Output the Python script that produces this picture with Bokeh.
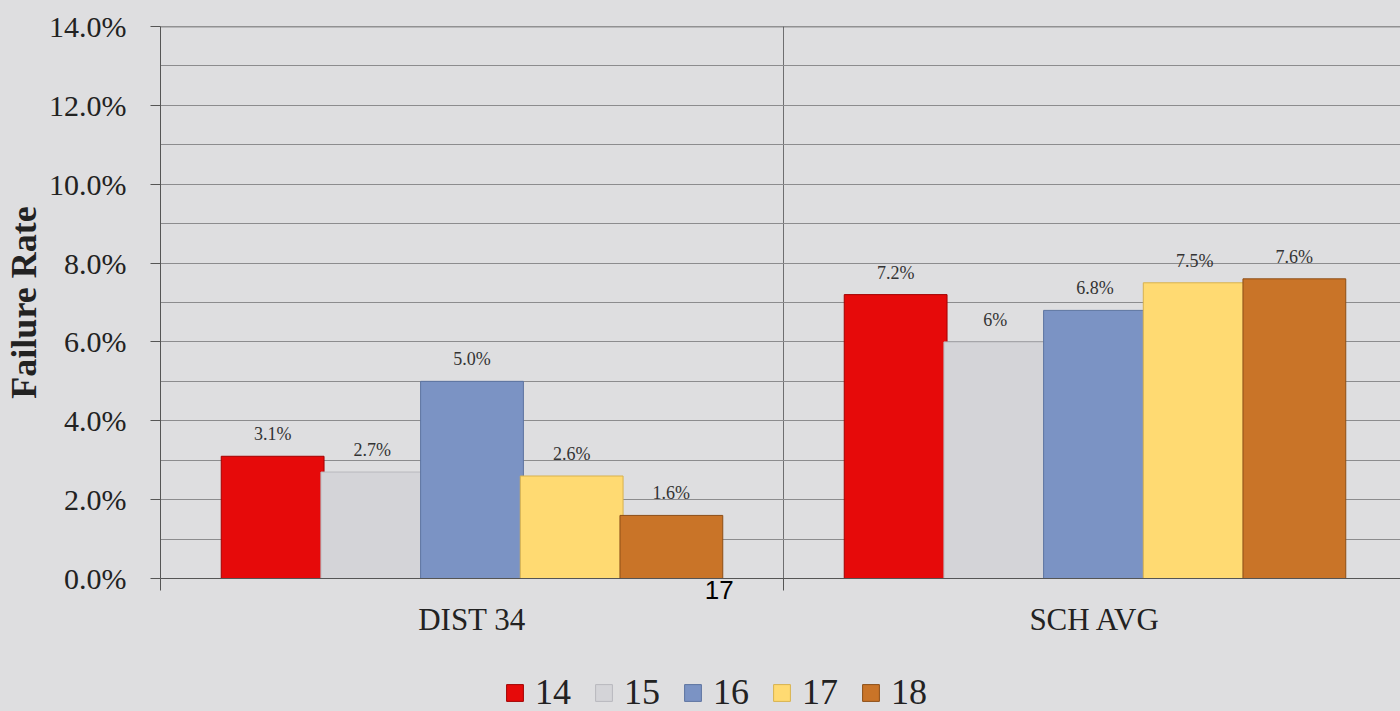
import numpy as np
from bokeh.plotting import figure
from bokeh.models import (Range1d, FixedTicker, PrintfTickFormatter, Legend, LegendItem,
                          Span, ColumnDataSource, LinearAxis)
from bokeh.layouts import column
from bokeh.embed import file_html
from bokeh.resources import INLINE
from bokeh.core.properties import value

# ---------------- data ----------------
groups = ["DIST 34", "SCH AVG"]
series = ["14", "15", "16", "17", "18"]
dist34 = [3.1, 2.7, 5.0, 2.6, 1.6]
sch_avg = [7.2, 6.0, 6.8, 7.5, 7.6]
dist34_labels = ["3.1%", "2.7%", "5.0%", "2.6%", "1.6%"]
sch_avg_labels = ["7.2%", "6%", "6.8%", "7.5%", "7.6%"]
y_ticks = [0, 2, 4, 6, 8, 10, 12, 14]
y_grid = list(range(0, 15))
page_number = "17"

# ---------------- style ----------------
colors = ["#E60A0A", "#D4D4D8", "#7B93C4", "#FFDA72", "#C97428"]
edges = ["#A30000", "#B8B8BD", "#5C73A0", "#D8B24E", "#8C4E16"]
bg = "#DEDEE0"
serif = "Liberation Serif"

group_centers = [0.5, 1.5]
group_edges = [0, 1, 2]
page_x = 0.897
bar_step = 0.16
bar_width = 0.165

p = figure(width=1400, height=645, output_backend="svg", toolbar_location=None,
           x_range=Range1d(0, 1240 / 623), y_range=Range1d(0, 14),
           x_axis_location=None,
           min_border_left=160, min_border_top=26, min_border_right=0,
           min_border_bottom=67)
p.background_fill_color = bg
p.border_fill_color = bg
p.outline_line_color = None

for i, s in enumerate(series):
    vals = [dist34[i], sch_avg[i]]
    labs = [dist34_labels[i], sch_avg_labels[i]]
    xs = [c + (i - 2) * bar_step for c in group_centers]
    src = ColumnDataSource(dict(x=xs, top=vals, lab=labs))
    p.vbar(x="x", top="top", width=bar_width, bottom=0, source=src,
           fill_color=colors[i], line_color=edges[i], line_width=1)
    p.text(x="x", y="top", text="lab", source=src, text_align="center",
           text_baseline="middle", y_offset=-22, text_font=value(serif),
           text_font_size="18px", text_color="#333333")

# grid
p.ygrid.ticker = FixedTicker(ticks=y_grid)
p.ygrid.grid_line_color = "#8C8C8E"
p.ygrid.grid_line_width = 1
p.xgrid.ticker = FixedTicker(ticks=[1])
p.xgrid.grid_line_color = "#6E6E70"
p.add_layout(Span(location=14, dimension="width", line_color="#444444", line_width=1.5))

# y axis
p.yaxis.ticker = FixedTicker(ticks=y_ticks)
p.yaxis.formatter = PrintfTickFormatter(format="%.1f%%")
p.yaxis.major_label_text_font = serif
p.yaxis.major_label_text_font_size = "30px"
p.yaxis.major_label_text_color = "#222222"
p.yaxis.major_tick_out = 10
p.yaxis.major_tick_in = 0
p.yaxis.major_label_standoff = 24
p.yaxis.minor_tick_line_color = None
p.yaxis.axis_line_color = "#555555"
p.yaxis.major_tick_line_color = "#555555"
p.yaxis.axis_label = "Failure Rate"
p.yaxis.axis_label_text_font = serif
p.yaxis.axis_label_text_font_style = "bold"
p.yaxis.axis_label_text_font_size = "36px"
p.yaxis.axis_label_text_color = "#222222"
p.yaxis.axis_label_standoff = 2

# x axis 1: baseline, group-edge ticks, slide page number
ax1 = LinearAxis(ticker=FixedTicker(ticks=[page_x], minor_ticks=group_edges),
                 major_label_overrides={page_x: page_number})
ax1.major_label_text_font = "Liberation Sans"
ax1.major_label_text_font_size = "26px"
ax1.major_label_text_color = "#000000"
ax1.major_tick_line_color = None
ax1.major_tick_out = 0
ax1.major_tick_in = 0
ax1.minor_tick_line_color = "#555555"
ax1.minor_tick_out = 12
ax1.minor_tick_in = 0
ax1.major_label_standoff = -10
ax1.axis_line_color = "#555555"
p.add_layout(ax1, "below")

# x axis 2: category labels
ax2 = LinearAxis(ticker=FixedTicker(ticks=group_centers, minor_ticks=[]),
                 major_label_overrides={group_centers[k]: groups[k] for k in range(len(groups))})
ax2.major_label_text_font = serif
ax2.major_label_text_font_size = "31px"
ax2.major_label_text_color = "#222222"
ax2.major_tick_line_color = None
ax2.major_tick_out = 0
ax2.major_tick_in = 0
ax2.minor_tick_line_color = None
ax2.major_label_standoff = 0
ax2.axis_line_color = None
p.add_layout(ax2, "below")

# legend strip
q = figure(width=1400, height=66, output_backend="svg", toolbar_location=None,
           x_range=Range1d(0, 1), y_range=Range1d(0, 1),
           x_axis_location=None, y_axis_location=None,
           min_border_left=160, min_border_right=0, min_border_top=0, min_border_bottom=0)
q.background_fill_color = bg
q.border_fill_color = bg
q.outline_line_color = None
q.grid.visible = False
proxies = []
for i, s in enumerate(series):
    # legend-only proxies (no visible data)
    proxies.append(q.vbar(x=np.array([np.nan]), top=np.array([np.nan]), width=0.1,
                          fill_color=colors[i], line_color=edges[i], line_width=1))
legend = Legend(items=[LegendItem(label=s, renderers=[r]) for s, r in zip(series, proxies)],
                orientation="horizontal", location=(344, -2),
                label_text_font=serif, label_text_font_size="36px",
                label_text_color="#222222", glyph_width=21, glyph_height=21,
                label_standoff=10, spacing=22, padding=0, margin=0,
                border_line_color=None, background_fill_alpha=0)
q.add_layout(legend, "center")

layout = column(p, q, spacing=0, styles={"background-color": bg})
open("out.html", "w").write(file_html(layout, INLINE))
